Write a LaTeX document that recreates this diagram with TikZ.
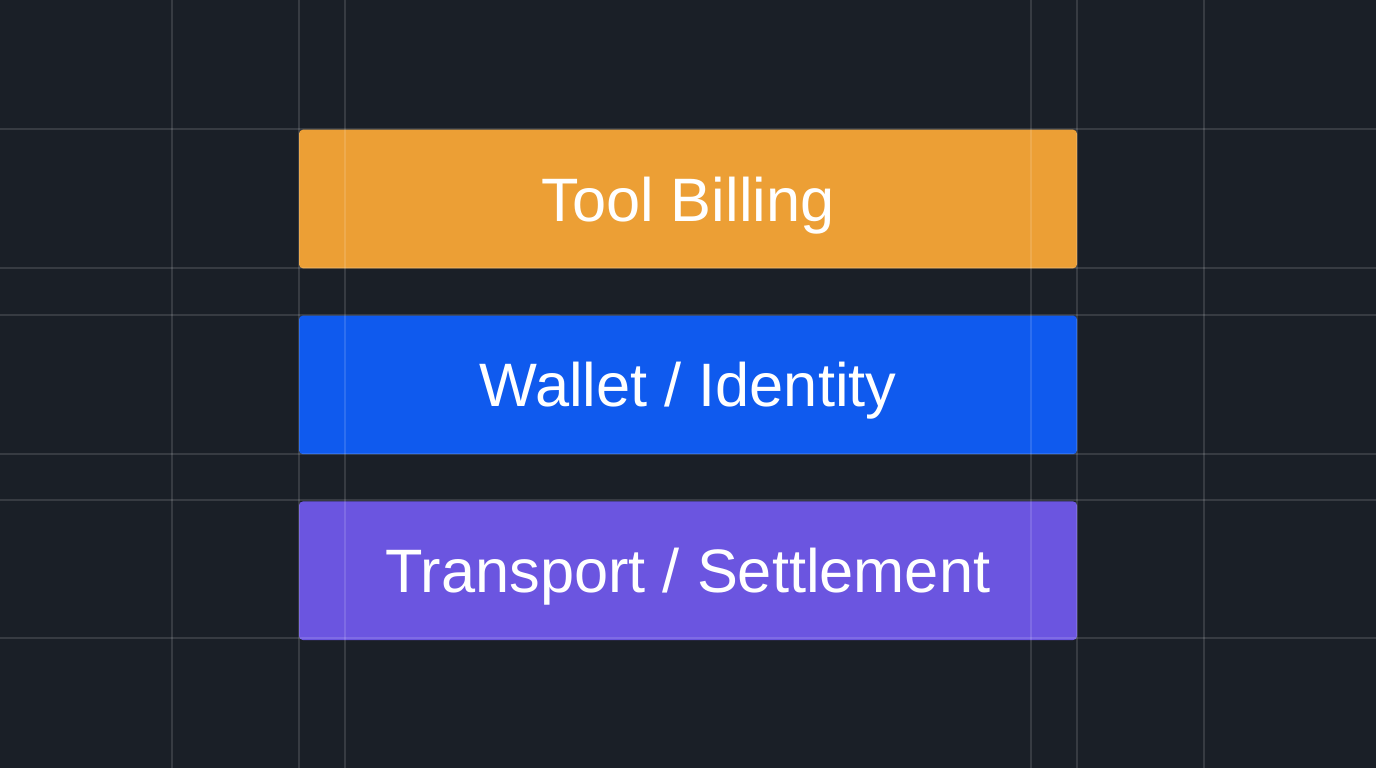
\documentclass[tikz,border=0pt]{standalone}
\usepackage{fontspec}
\setmainfont{Liberation Sans}
\usetikzlibrary{positioning}

\definecolor{bgdark}{HTML}{1A1F27}
\definecolor{billorange}{HTML}{EC9F35}
\definecolor{walletblue}{HTML}{0F5AEE}
\definecolor{settlepurple}{HTML}{6B55E0}

\begin{document}
\begin{tikzpicture}[x=0.75pt,y=-0.75pt,
        layer/.style={rounded corners=3pt,minimum width=583.5pt,minimum height=104pt,
            inner sep=0pt,text=white,font=\fontsize{46}{55}\selectfont,
            text height=33pt,text depth=0pt},
        gridline/.style={white,opacity=0.13,line width=0.8pt},
        node distance=35pt]
        \fill[bgdark] (0,0) rectangle (1376,768);
        \useasboundingbox (0,0) rectangle (1376,768);
        \node[layer,fill=billorange] (billing) at (688,199) {Tool Billing};
        \node[layer,fill=walletblue,below=of billing] (wallet) {Wallet / Identity};
        \node[layer,fill=settlepurple,below=of wallet] (transport) {Transport / Settlement};
        % grid
        \foreach \gx in {172,299,345,1031,1077,1204}
            \draw[gridline] (\gx,0) -- (\gx,768);
        \foreach \gy in {129,268,315,454,500,638}
            \draw[gridline] (0,\gy) -- (1376,\gy);
    \end{tikzpicture}
\end{document}
